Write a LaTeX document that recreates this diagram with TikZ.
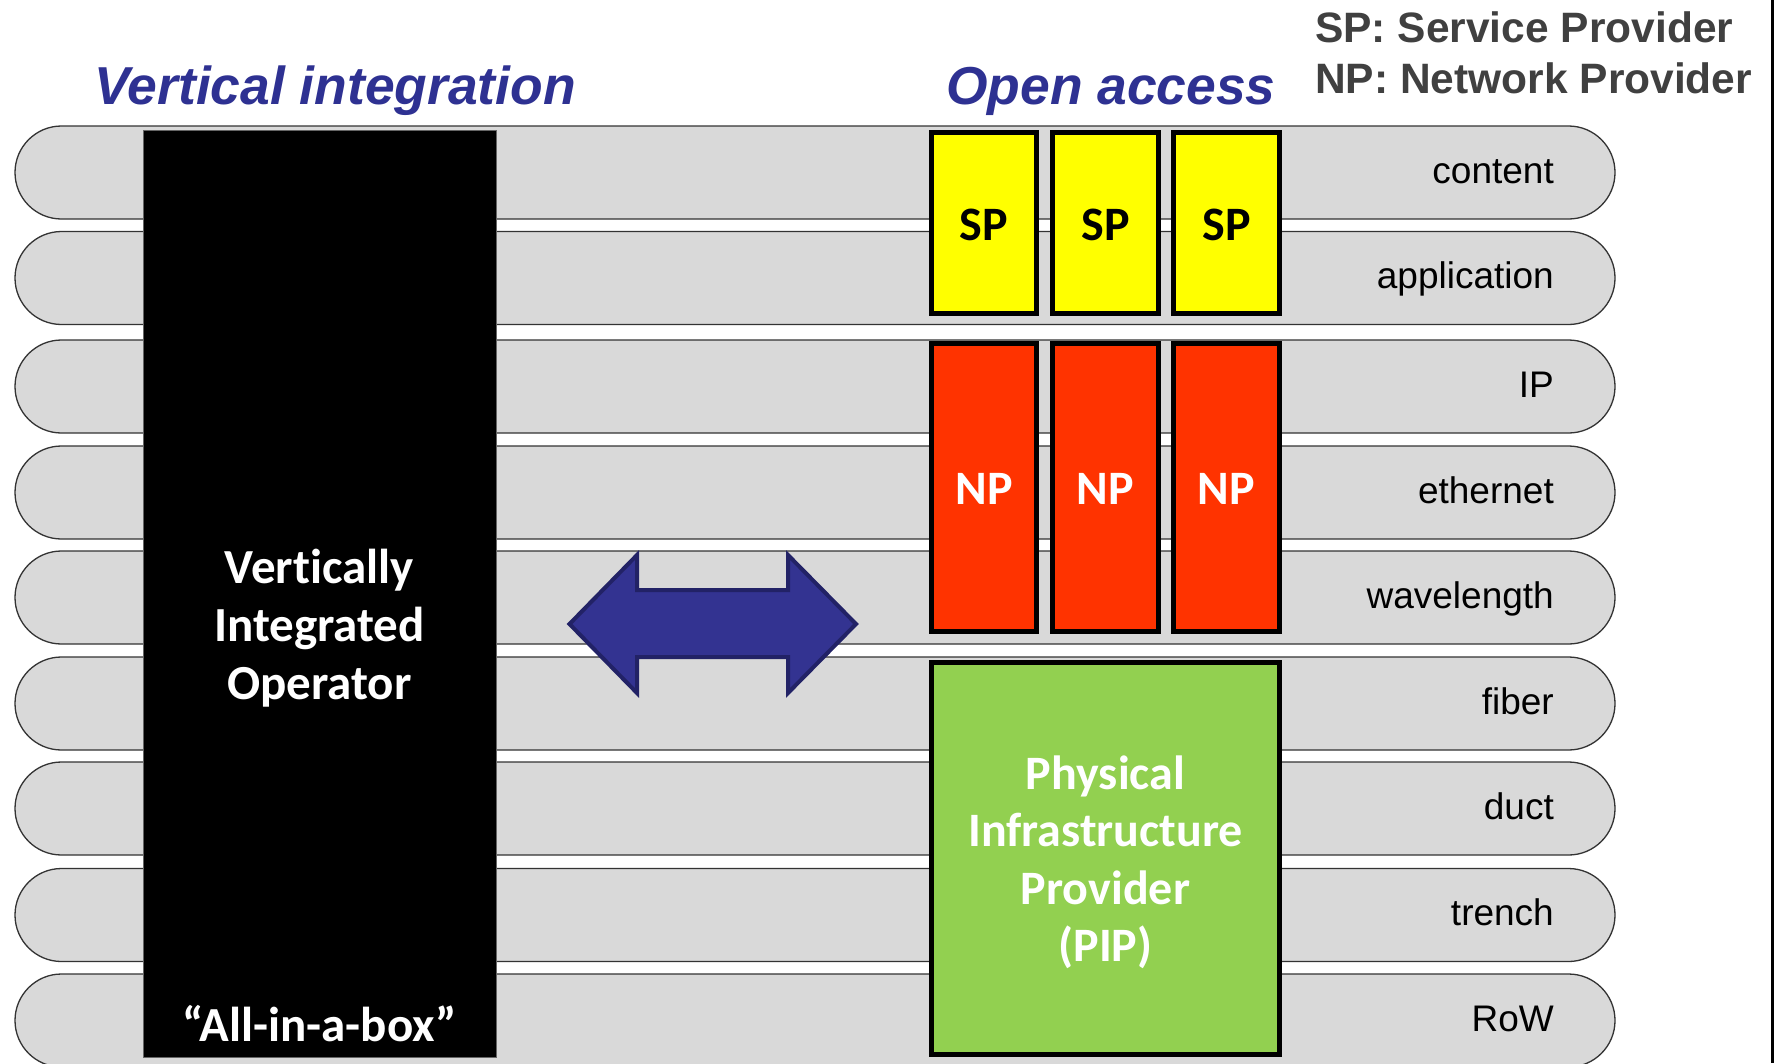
\documentclass[tikz,border=0pt]{standalone}
\usepackage{fontspec}
\newfontfamily\arialf{Liberation Sans}
\newfontfamily\calf[Ligatures=NoCommon]{Carlito}
\definecolor{titleblue}{RGB}{46,49,146}
\definecolor{legendgray}{RGB}{64,64,64}
\definecolor{barfill}{RGB}{217,217,217}
\definecolor{spyellow}{RGB}{255,255,0}
\definecolor{npred}{RGB}{255,51,0}
\definecolor{pipgreen}{RGB}{146,208,80}
\definecolor{arrowfill}{RGB}{51,51,145}
\definecolor{arrowedge}{RGB}{34,34,102}
\begin{document}
\begin{tikzpicture}[x=1pt,y=-1pt,
  layerbar/.style={fill=barfill,draw=black!80,line width=1.3pt,rounded corners=46.5pt},
  layerlabel/.style={anchor=base east,inner sep=0pt,font=\arialf\fontsize{37}{44}\selectfont},
  provbox/.style={draw=black,line width=5pt,inner sep=0pt},
  boxtext/.style={inner sep=0pt,align=center,
    font=\calf\bfseries\fontsize{48}{57.5}\selectfont},
  whitetext/.style={boxtext,text=white},
  titletext/.style={anchor=base west,inner sep=0pt,text=titleblue,
    font=\arialf\bfseries\itshape\fontsize{53.4}{60}\selectfont},
  legendtext/.style={anchor=base west,inner sep=0pt,text=legendgray,
    font=\arialf\bfseries\fontsize{42.5}{50}\selectfont}]
\useasboundingbox (0,0) rectangle (1774,1063);
\clip (0,0) rectangle (1774,1063);
\fill[white] (0,0) rectangle (1774,1063);

% layer bars
\foreach \t/\lab [count=\i] in {126/content,231.5/application,340/IP,446/ethernet,551/wavelength,657/fiber,762/duct,868.5/trench,974/RoW}{
  \draw[layerbar] (15,\t) rectangle (1615,\t+93);
  \node[layerlabel] (lab\i) at (1554,\t+57) {\lab};
}

% vertically integrated operator
\node[fill=black,draw=black!60,line width=0.8pt,minimum width=353pt,minimum height=927pt,inner sep=0pt] (vio) at (319.5,593.5) {};
\node[whitetext,font=\calf\bfseries\fontsize{49}{58}\selectfont] (viotext) at (319.5,628) {Vertically\\Integrated\\Operator};
\node[whitetext,anchor=base,font=\calf\bfseries\fontsize{49}{58}\selectfont] (allbox) at (319.5,1041) {“All-in-a-box”};

% service providers
\node[provbox,fill=spyellow,minimum width=105pt,minimum height=181pt] (sp1) at (984,223) {};
\node[provbox,fill=spyellow,minimum width=106pt,minimum height=181pt] (sp2) at (1105.5,223) {};
\node[provbox,fill=spyellow,minimum width=106pt,minimum height=181pt] (sp3) at (1226.5,223) {};
\foreach \b in {sp1,sp2,sp3}{
  \node[boxtext,yshift=-2pt] (\b t) at (\b.center) {SP};
}

% network providers
\node[provbox,fill=npred,minimum width=105pt,minimum height=288pt] (np1) at (984,487.5) {};
\node[provbox,fill=npred,minimum width=106pt,minimum height=288pt] (np2) at (1105.5,487.5) {};
\node[provbox,fill=npred,minimum width=106pt,minimum height=288pt] (np3) at (1226.5,487.5) {};
\foreach \b in {np1,np2,np3}{
  \node[whitetext,yshift=-1.5pt] (\b t) at (\b.center) {NP};
}

% physical infrastructure provider
\node[provbox,fill=pipgreen,minimum width=348pt,minimum height=392pt] (pip) at (1105.5,858.5) {};
\node[whitetext,yshift=-4pt] (piptext) at (pip.center) {Physical\\Infrastructure\\Provider\\(PIP)};

% double arrow
\filldraw[fill=arrowfill,draw=arrowedge,line width=4pt,line join=miter]
  (569.5,624) -- (637,555) -- (637,590) -- (788,590) -- (788,555) -- (856,624)
  -- (788,693) -- (788,657) -- (637,657) -- (637,693) -- cycle;

% titles
\node[titletext] (vtitle) at (94,104) {Vertical integration};
\node[titletext] (otitle) at (946,104) {Open access};

% legend
\node[legendtext] (leg1) at (1315,42) {SP: Service Provider};
\node[legendtext] (leg2) at (1315,93) {NP: Network Provider};

% right frame edge
\coordinate (edgetop) at (1772.5,0);
\coordinate (edgebot) at (1772.5,1063);
\draw[line width=3pt] (edgetop) -- (edgebot);
\end{tikzpicture}
\end{document}
